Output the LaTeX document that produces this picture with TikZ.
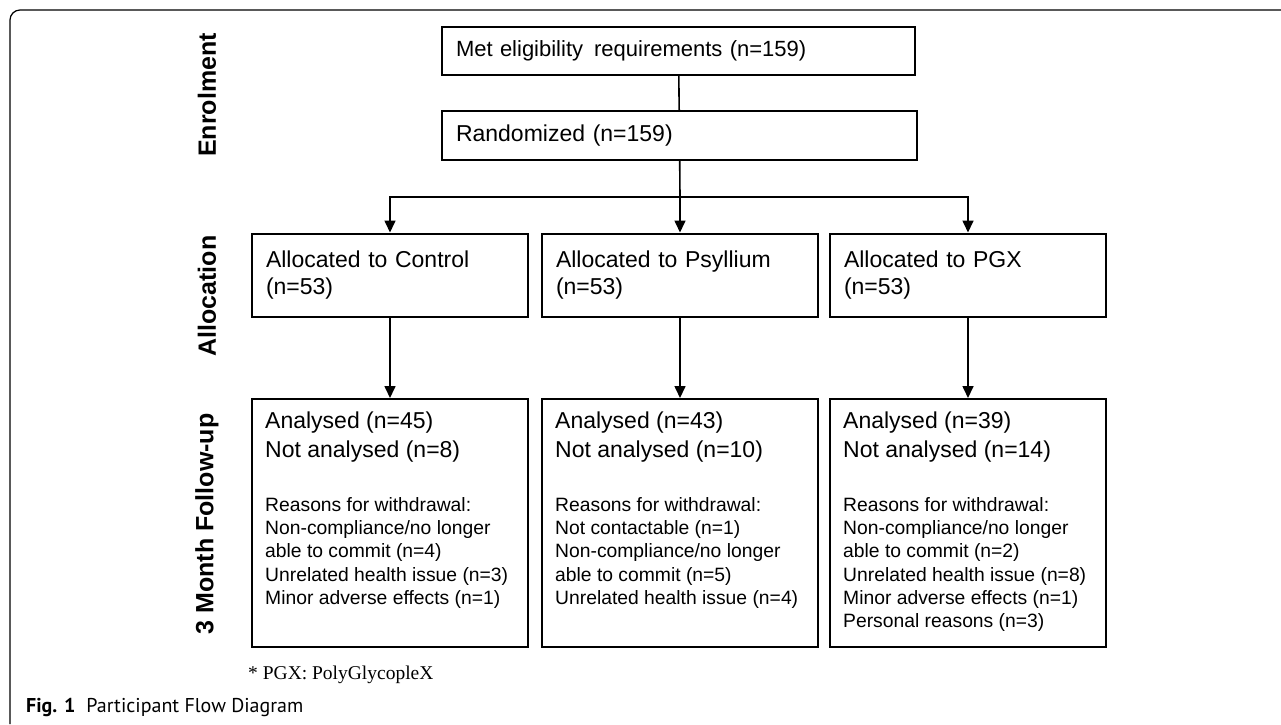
\documentclass[tikz,border=0pt]{standalone}
\usepackage{fontspec}
\setmainfont{Liberation Sans}
\newfontfamily\notefont{Liberation Serif}
\newfontfamily\capfont{PT Sans}
\usetikzlibrary{positioning, arrows.meta}

\begin{document}
\begin{tikzpicture}[x=1pt, y=-1pt,
    stagebox/.style={draw, line width=2pt, inner xsep=14pt, inner ysep=0pt, align=left,
      font=\fontsize{23}{27}\selectfont},
    phase/.style={rotate=90, inner sep=0pt, font=\fontsize{25}{30}\selectfont\bfseries},
    bigtxt/.style={inner sep=0pt, align=left, font=\fontsize{23}{29}\selectfont},
    whytxt/.style={inner sep=0pt, align=left, font=\fontsize{19.3}{23.3}\selectfont},
    link/.style={line width=1.6pt},
    arr/.style={link, -{Triangle[length=12pt, width=11pt]}}]
  \useasboundingbox (0,0) rectangle (1281,724);
  % page frame, open at right and bottom
  \draw[line width=1.2pt, rounded corners=10pt] (10,724) -- (10,10) -- (1281,10);

  % phase labels
  \node[phase] (enrol) at (207,95) {Enrolment};
  \node[phase] (alloc) at (207,296) {Allocation};
  \node[phase] (follow) at (207,524) {3 Month Follow-up};

  % enrolment
  \node[stagebox, minimum width=473pt, minimum height=48pt, text width=445pt,
    font=\fontsize{22}{27}\selectfont] (elig)
    at (678.5,51) {Met eligibility\ \,requirements (n=159)};
  \node[stagebox, minimum width=475pt, minimum height=49pt, text width=447pt] (rand)
    at (679.5,135.5) {Randomized (n=159)};

  % allocation
  \node[stagebox, minimum width=276pt, minimum height=83pt, text width=248pt] (alctrl)
    at (390,275) {Allocated to Control\\(n=53)};
  \node[stagebox, minimum width=276pt, minimum height=83pt, text width=248pt] (alpsyl)
    at (680,275) {Allocated to Psyllium\\(n=53)};
  \node[stagebox, minimum width=276pt, minimum height=83pt, text width=248pt] (alpgx)
    at (968,275) {Allocated to PGX\\(n=53)};

  % follow-up
  \node[stagebox, minimum width=276pt, minimum height=248pt] (fuctrl) at (390,523) {};
  \node[stagebox, minimum width=276pt, minimum height=248pt] (fupsyl) at (680,523) {};
  \node[stagebox, minimum width=276pt, minimum height=248pt] (fupgx) at (968,523) {};

  \node[bigtxt, below right=14pt and 14pt of fuctrl.north west] (fuctrl-n)
    {Analysed (n=45)\\Not analysed (n=8)};
  \node[whytxt, below right=99pt and 14pt of fuctrl.north west] (fuctrl-w)
    {Reasons for withdrawal:\\Non-compliance/no longer\\able to commit (n=4)\\
     Unrelated health issue (n=3)\\Minor adverse effects (n=1)};
  \node[bigtxt, below right=14pt and 14pt of fupsyl.north west] (fupsyl-n)
    {Analysed (n=43)\\Not analysed (n=10)};
  \node[whytxt, below right=99pt and 14pt of fupsyl.north west] (fupsyl-w)
    {Reasons for withdrawal:\\Not contactable (n=1)\\Non-compliance/no longer\\
     able to commit (n=5)\\Unrelated health issue (n=4)};
  \node[bigtxt, below right=14pt and 14pt of fupgx.north west] (fupgx-n)
    {Analysed (n=39)\\Not analysed (n=14)};
  \node[whytxt, below right=99pt and 14pt of fupgx.north west] (fupgx-w)
    {Reasons for withdrawal:\\Non-compliance/no longer\\able to commit (n=2)\\
     Unrelated health issue (n=8)\\Minor adverse effects (n=1)\\Personal reasons (n=3)};

  % connectors
  \coordinate (split) at (680,197);
  \draw[link] (elig) -- (rand);
  \draw[link] (rand) -- (split);
  \draw[arr] (split) -| (alctrl);
  \draw[arr] (split) -- (alpsyl);
  \draw[arr] (split) -| (alpgx);
  \draw[arr] (alctrl) -- (fuctrl);
  \draw[arr] (alpsyl) -- (fupsyl);
  \draw[arr] (alpgx) -- (fupgx);

  % footnote and caption
  \node[anchor=base west, inner sep=0pt, font=\notefont\fontsize{19.5}{23}\selectfont] (note)
    at (248,679) {* PGX: PolyGlycopleX};
  \node[anchor=base west, inner sep=0pt, font=\capfont\fontsize{20}{24}\selectfont] (caption)
    at (26,712) {\textbf{Fig. 1}\hspace{0.55em}Participant Flow Diagram};
\end{tikzpicture}
\end{document}
